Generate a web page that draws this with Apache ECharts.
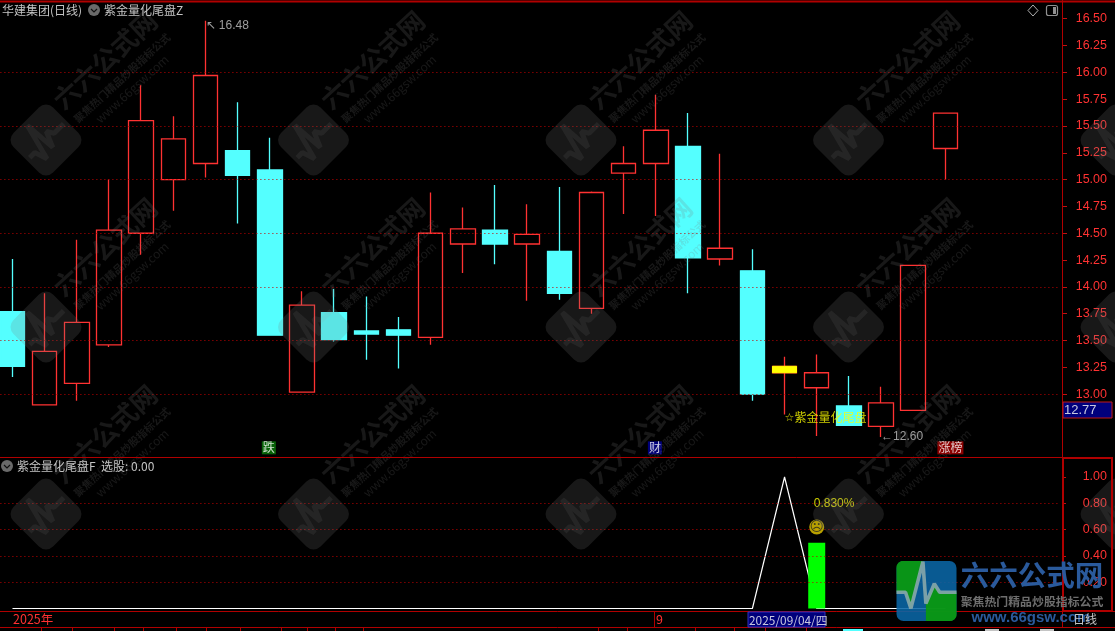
<!DOCTYPE html>
<html><head><meta charset="utf-8">
<style>html,body{margin:0;padding:0;background:#000;overflow:hidden}#c{width:1115px;height:631px}</style>
<script src="https://cdn.jsdelivr.net/npm/echarts@6/dist/echarts.min.js"></script>
</head><body><div id="c"></div>
<script>
// ---------- data ----------
const dates = ['08/04','08/05','08/06','08/07','08/08','08/11','08/12','08/13','08/14','08/15',
  '08/18','08/19','08/20','08/21','08/22','08/25','08/26','08/27','08/28','08/29',
  '09/01','09/02','09/03','09/04','09/05','09/08','09/09','09/10','09/11','09/12','','',''];
const opens  = [13.77,12.90,13.10,13.46,14.50,15.00,15.15,15.27,15.09,13.02,13.76,13.59,13.60,13.53,14.40,14.53,14.40,14.33,13.80,15.06,15.15,15.31,14.26,14.15,13.20,13.06,12.89,12.70,12.85,15.29];
const closes = [13.26,13.40,13.67,14.53,15.55,15.38,15.97,15.04,13.55,13.83,13.51,13.56,13.55,14.50,14.54,14.40,14.49,13.94,14.88,15.15,15.46,14.27,14.36,13.00,13.26,13.20,12.71,12.92,14.20,15.62];
const lows   = [13.16,12.90,12.94,13.44,14.30,14.71,15.02,14.59,13.55,13.02,13.49,13.32,13.24,13.46,14.13,14.21,13.87,13.88,13.75,14.68,14.66,13.94,14.20,12.94,12.81,12.61,12.71,12.60,12.85,15.00];
const highs  = [14.26,13.94,14.44,15.00,15.88,15.59,16.48,15.72,15.39,13.96,13.98,13.91,13.72,14.88,14.74,14.95,14.77,14.93,14.89,15.31,15.79,15.62,15.24,14.35,13.35,13.37,13.17,13.07,14.20,15.62];
const flatIndex = 24, flatTop = 13.26, flatBottom = 13.20;
const priceTicks = [13,13.25,13.5,13.75,14,14.25,14.5,14.75,15,15.25,15.5,15.75,16,16.25,16.5];
const priceGrid  = [13,13.5,14,14.5,15,15.5,16];
const signalTicks = [0.2,0.4,0.6,0.8,1];
const signalGrid  = [0.2,0.4,0.6,0.8];
const signalLine = [0,0,0,0,0,0,0,0,0,0,0,0,0,0,0,0,0,0,0,0,0,0,0,0,1,0,0,0,0,0];
const signalBarIndex = 25, signalBarValue = 0.5;
const faceValue = 0.62, pctValue = 0.795, pctText = '0.830%';
const title1 = '华建集团(日线)', title2 = '紫金量化尾盘Z', subTitle = '紫金量化尾盘F', subValue = '选股: 0.00';
const tags = [{i:8,t:'跌',bg:'#0a7a0a'},{i:20,t:'财',bg:'#000098'},{i:29,t:'涨榜',bg:'#b00000'}];
const tagValue = 12.5;
const lastPrice = '12.77', dateBox = '2025/09/04/四';
const bottomTicks = [41,72,114,143,176,206,240,281,307,335,363,598,627,695,734,765,806];

// ---------- styles ----------
const RED='#ff3232', CYAN='#54ffff', DK='#b00000', GRAY='#c4c4c4';
const CJK='"Noto Sans CJK SC","Liberation Sans",sans-serif', NUM='"Liberation Sans",sans-serif';
const L=-3.6, W=1061.6;

// ---------- decoration ----------
const pulse=[[-.5,.02],[-.35,.02],[-.26,.29],[-.06,-.49],[-.01,.21],[.13,-.12],[.22,.02],[.5,.02]];
const scale=(p,s)=>p.map(q=>[q[0]*s,q[1]*s]);
function watermark(cx,cy){
  const f='rgba(120,120,120,.2)';
  const t=(txt,dx,dy,size,bold)=>({type:'text',x:dx,y:dy,rotation:0.74,z:60,silent:true,
    style:{text:txt,fill:f,font:(bold?'bold ':'')+size+'px '+CJK,textAlign:'center',textVerticalAlign:'middle'}});
  return {type:'group',x:cx,y:cy,silent:true,children:[
    {type:'group',rotation:Math.PI/4,children:[
      {type:'rect',z:60,shape:{x:-28,y:-28,width:56,height:56,r:10},style:{fill:'rgba(120,120,120,.2)'}},
      {type:'polyline',z:60,shape:{points:scale(pulse,48)},style:{fill:null,stroke:'rgba(160,160,160,.1)',lineWidth:5,lineJoin:'bevel'}}
    ]},
    t('六六公式网',59,-80,26,true),
    t('聚焦热门精品炒股指标公式',76,-62,10.5,true),
    t('www.66gsw.com',86,-51,12,false)
  ]};
}
const S=60;
const logo={type:'group',x:926.5,y:591,silent:true,children:[
  {type:'rect',z:90,shape:{x:-S/2,y:-S/2,width:S,height:S,r:7},style:{fill:'#0a66a6',opacity:.88}},
  {type:'polygon',z:91,shape:{points:scale([[-.42,-.5],[-.06,-.5],[-.26,.29],[-.35,.02],[-.5,.02],[-.5,-.42],[-.47,-.47]],S)},style:{fill:'#0a9a0a',opacity:.9}},
  {type:'polygon',z:91,shape:{points:scale([[-.01,.21],[.13,-.12],[.22,.02],[.5,.02],[.5,.42],[.47,.47],[.42,.5],[-.01,.5]],S)},style:{fill:'#0a9a0a',opacity:.9}},
  {type:'polyline',z:92,shape:{points:scale(pulse,S)},style:{fill:null,stroke:'#86a6aa',lineWidth:3.6,opacity:.92,lineJoin:'bevel'}}
]};
const txt=(x,y,text,fill,size,extra)=>Object.assign({type:'text',x,y,z:95,silent:true,
  style:{text,fill,font:(size||12)+'px '+CJK,textVerticalAlign:'middle'}},extra||{});
const ln=(x1,y1,x2,y2,c,w)=>({type:'line',z:70,silent:true,shape:{x1,y1,x2,y2},style:{stroke:c||DK,lineWidth:w||1}});
const badge=(x,y)=>({type:'group',x,y,silent:true,children:[
  {type:'circle',z:95,shape:{cx:0,cy:0,r:6},style:{fill:'#6a6a6a'}},
  {type:'polyline',z:96,shape:{points:[[-3,-1],[0,2],[3,-1]]},style:{fill:null,stroke:'#111',lineWidth:1.2}}
]});

const graphic=[];
for(let c=0;c<5;c++)for(let r=0;r<4;r++)graphic.push(watermark(46+267.5*c,-47+187*r));
graphic.push(
  ln(0,1.5,1115,1.5,'#b00000',2),
  ln(0,457.5,1062,457.5),
  ln(1062.5,0,1062.5,627),
  ln(0,611.5,1115,611.5),
  ln(0,627.5,1115,627.5),
  ln(654.5,612,654.5,627),
  {type:'rect',z:70,silent:true,shape:{x:1063,y:458,width:49,height:153},style:{fill:null,stroke:'#b00000',lineWidth:2}},
  {type:'rect',z:71,silent:true,shape:{x:1063,y:402,width:49,height:16},style:{fill:'#00007c',stroke:'#c01818',lineWidth:1}},
  {type:'text',x:1064,y:410.5,z:95,silent:true,style:{text:lastPrice,fill:'#c8c8e0',font:'13px '+NUM,textVerticalAlign:'middle'}},
  txt(2,10,title1,GRAY),
  badge(94,10),
  txt(104,10,title2,GRAY),
  badge(7,466),
  txt(17,466,subTitle,GRAY),
  txt(101,466,subValue,GRAY),
  {type:'polygon',z:95,silent:true,shape:{points:[[1033,5],[1038,10.5],[1033,16],[1028,10.5]]},style:{fill:null,stroke:'#b0b0b0',lineWidth:1}},
  {type:'rect',z:95,silent:true,shape:{x:1046.5,y:5.5,width:11,height:10,r:2},style:{fill:null,stroke:'#909090',lineWidth:1.2}},
  {type:'rect',z:95,silent:true,shape:{x:1053,y:7,width:3,height:7},style:{fill:'#909090'}},
  txt(13,619.5,'2025年',RED,12.5),
  txt(656,619.5,'9',RED,12.5),
  {type:'rect',z:71,silent:true,shape:{x:748,y:612,width:77,height:15},style:{fill:'#00007c',stroke:'#3030c0',lineWidth:1}},
  txt(749,620,dateBox,'#c8c8e0',11.9),
  txt(1073,619.5,'日线',GRAY,12,{z:98}),
  logo,
  {type:'text',x:1032,y:575,z:96,silent:true,style:{text:'六六公式网',fill:'#2a5a9c',font:'bold 28.5px '+CJK,textAlign:'center',textVerticalAlign:'middle'}},
  {type:'text',x:1032,y:601.5,z:96,silent:true,style:{text:'聚焦热门精品炒股指标公式',fill:'#6e6e6e',font:'bold 11.9px '+CJK,textAlign:'center',textVerticalAlign:'middle'}},
  {type:'text',x:1031,y:617.5,z:96,silent:true,style:{text:'www.66gsw.com',fill:'#2a5a9c',font:'bold 15px '+NUM,textAlign:'center',textVerticalAlign:'middle'}},
  {type:'rect',z:70,silent:true,shape:{x:843,y:629,width:20,height:2},style:{fill:CYAN}},
  {type:'rect',z:70,silent:true,shape:{x:985,y:629,width:14,height:2},style:{fill:GRAY}},
  {type:'rect',z:70,silent:true,shape:{x:1040,y:629,width:14,height:2},style:{fill:GRAY}}
);
bottomTicks.forEach(x=>graphic.push(ln(x+.5,628,x+.5,631)));

// ---------- chart ----------
const hline=(vals)=>({silent:true,symbol:'none',animation:false,label:{show:false},
  lineStyle:{color:'#c00000',type:[1,3],width:1},data:vals.map(v=>({yAxis:v}))});
const chart=echarts.init(document.getElementById('c'),null,{renderer:'canvas'});
const yA=(gridIndex,min,max,interval,ticks,fmt,len)=>({type:'value',gridIndex,position:'right',offset:4,min,max,interval,scale:true,
  axisLine:{show:false},splitLine:{show:false},
  axisTick:{show:true,length:len,lineStyle:{color:'#c01010'},customValues:ticks},
  axisLabel:{show:true,customValues:ticks,formatter:fmt,color:RED,align:'right',margin:45,fontSize:12.5,fontFamily:NUM}});
const xA=(gridIndex)=>({type:'category',gridIndex,data:dates,boundaryGap:true,axisLine:{show:false},axisTick:{show:false},axisLabel:{show:false},splitLine:{show:false}});
const candleData=opens.map((o,i)=>[o,closes[i],lows[i],highs[i]]);
const flatData=opens.map((o,i)=>i===flatIndex?[flatTop,flatBottom,flatBottom,flatTop]:['-','-','-','-']);
const lab=(i,v,text,color,extra)=>({value:[i,v],label:Object.assign({show:true,formatter:text,color,position:'right',distance:0,fontFamily:CJK,fontSize:12},extra||{})});
chart.setOption({
  animation:false,backgroundColor:'#000',
  graphic:{elements:graphic},
  grid:[
    {left:L,width:W,top:72.3-0.75*107.3,height:4.5*107.3,outerBoundsMode:'none'},
    {left:L,width:W,top:608.5-1.2*131.5,height:1.4*131.5,outerBoundsMode:'none'}
  ],
  xAxis:[xA(0),xA(1)],
  yAxis:[
    yA(0,12.25,16.75,0.25,priceTicks,v=>(+v).toFixed(2),5),
    yA(1,-0.2,1.2,0.2,signalTicks,v=>(+v).toFixed(2),4)
  ],
  series:[
    {type:'candlestick',xAxisIndex:0,yAxisIndex:0,data:candleData,barWidth:25,z:3,
      itemStyle:{color:'rgba(0,0,0,0)',borderColor:RED,color0:CYAN,borderColor0:CYAN,borderWidth:1.3},
      markLine:hline(priceGrid)},
    {type:'candlestick',xAxisIndex:0,yAxisIndex:0,data:flatData,barWidth:25,z:4,
      itemStyle:{color:'#ffff00',borderColor:'#ffff00',color0:'#ffff00',borderColor0:'#ffff00',borderWidth:1}},
    {type:'scatter',xAxisIndex:0,yAxisIndex:0,symbolSize:0,z:6,silent:true,data:[
      lab(6,16.43,'↖ 16.48',GRAY,{fontFamily:NUM,fontSize:12}),
      lab(27,12.6,'←12.60',GRAY,{fontFamily:NUM,fontSize:12}),
      lab(24,12.78,'{s|☆}紫金量化尾盘','#ffff00',{rich:{s:{fontSize:11,color:'#ffff00',fontFamily:'"DejaVu Sans"'}}}),
      ...tags.map(g=>lab(g.i,tagValue,g.t,'#fff',{position:'inside',backgroundColor:g.bg,padding:[1,1,0,1],fontSize:12,offset:[g.t.length>1?5:-1,0]}))
    ]},
    {type:'line',xAxisIndex:1,yAxisIndex:1,data:signalLine,symbol:'none',z:3,lineStyle:{color:'#fff',width:1.2},
      markLine:hline(signalGrid)},
    {type:'bar',xAxisIndex:1,yAxisIndex:1,barWidth:17,z:4,itemStyle:{color:'#00ff00'},
      data:signalLine.map((_,i)=>i===signalBarIndex?signalBarValue:'-')},
    {type:'scatter',xAxisIndex:1,yAxisIndex:1,z:6,silent:true,symbolSize:0,data:[
      lab(signalBarIndex,pctValue,pctText,'#ffff00',{fontFamily:NUM,fontSize:12,offset:[-3,0]}),
      {value:[signalBarIndex,faceValue],symbol:'circle',symbolSize:15,itemStyle:{color:'#e6c800'},
        label:{show:true,position:'inside',formatter:'☹',color:'#222',fontFamily:'"DejaVu Sans"',fontSize:14}}
    ]}
  ]
});
</script></body></html>
